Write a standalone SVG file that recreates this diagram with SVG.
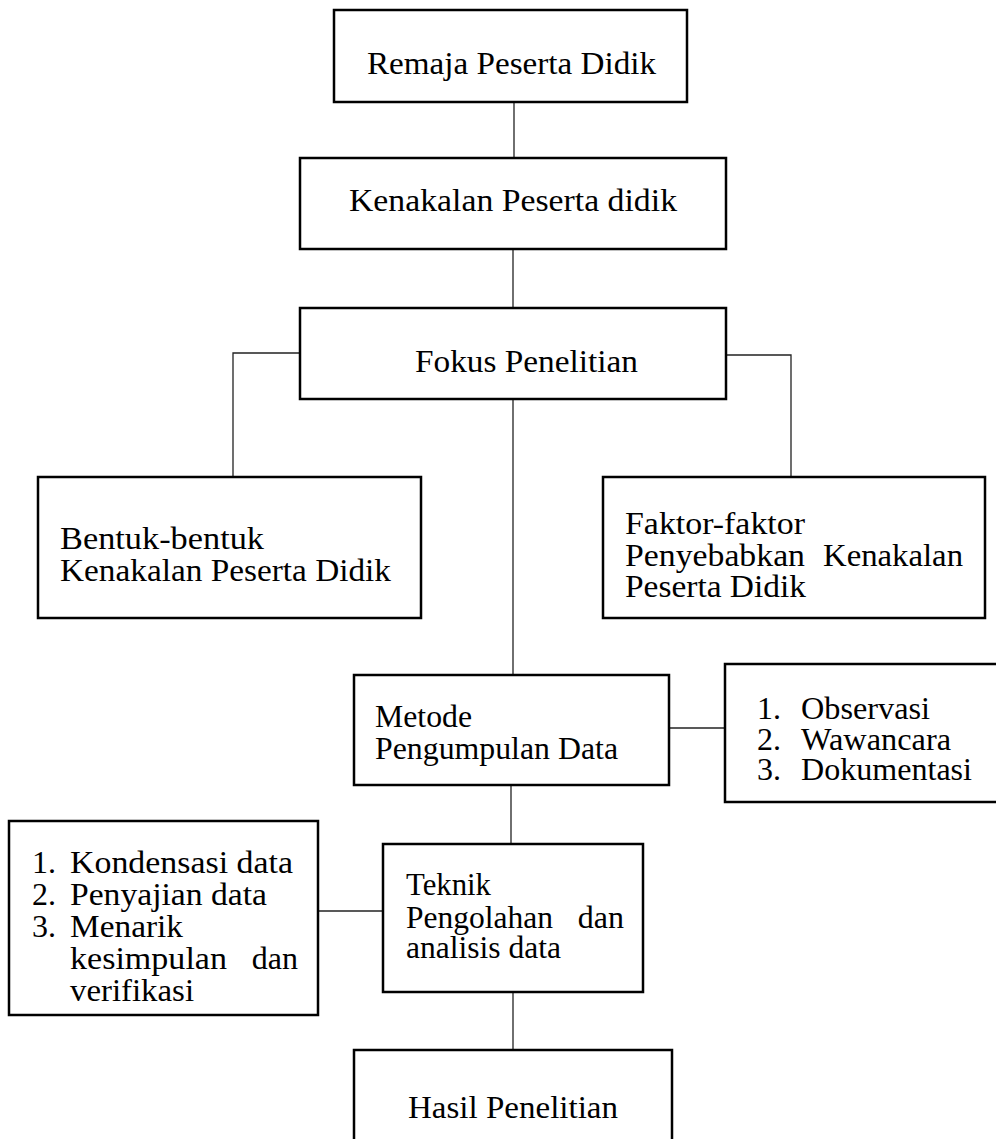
<svg xmlns="http://www.w3.org/2000/svg" width="996" height="1139" viewBox="0 0 996 1139">
<style>
.box{fill:#fff;stroke:#000;stroke-width:2.5}
.con{fill:none;stroke:#222;stroke-width:1.3}
text{font-family:"Liberation Serif","Times New Roman",serif;font-size:32px;fill:#000}
.end{text-anchor:end}
</style>
<rect width="996" height="1139" fill="#fff"/>
<g id="connectors">
<line class="con" x1="514" y1="102" x2="514" y2="158"/>
<line class="con" x1="513" y1="249" x2="513" y2="308"/>
<line class="con" x1="513" y1="399" x2="513" y2="676"/>
<polyline class="con" points="300,353 233,353 233,477"/>
<polyline class="con" points="726,355 791,355 791,477"/>
<line class="con" x1="669" y1="728" x2="725" y2="728"/>
<line class="con" x1="511" y1="785" x2="511" y2="844"/>
<line class="con" x1="318" y1="911" x2="383" y2="911"/>
<line class="con" x1="513" y1="992" x2="513" y2="1050"/>
</g>
<g id="remaja">
<rect class="box" x="334" y="10" width="353" height="92"/>
<text x="367" y="74" textLength="289" lengthAdjust="spacingAndGlyphs">Remaja Peserta Didik</text>
</g>
<g id="kenakalan">
<rect class="box" x="300" y="158" width="426" height="91"/>
<text x="349" y="211" textLength="328" lengthAdjust="spacingAndGlyphs">Kenakalan Peserta didik</text>
</g>
<g id="fokus">
<rect class="box" x="300" y="308" width="426" height="91"/>
<text x="415" y="372" textLength="223" lengthAdjust="spacingAndGlyphs">Fokus Penelitian</text>
</g>
<g id="bentuk">
<rect class="box" x="38" y="477" width="383" height="141"/>
<text x="60" y="549" textLength="204" lengthAdjust="spacingAndGlyphs">Bentuk-bentuk</text>
<text x="60" y="581" textLength="331" lengthAdjust="spacingAndGlyphs">Kenakalan Peserta Didik</text>
</g>
<g id="faktor">
<rect class="box" x="603" y="477" width="382" height="141"/>
<text x="625" y="534" textLength="180" lengthAdjust="spacingAndGlyphs">Faktor-faktor</text>
<text x="625" y="566" textLength="180" lengthAdjust="spacingAndGlyphs">Penyebabkan</text>
<text x="823" y="566" textLength="140" lengthAdjust="spacingAndGlyphs">Kenakalan</text>
<text x="625" y="597" textLength="181" lengthAdjust="spacingAndGlyphs">Peserta Didik</text>
</g>
<g id="metode">
<rect class="box" x="354" y="675" width="315" height="110"/>
<text x="375" y="727" textLength="97" lengthAdjust="spacingAndGlyphs">Metode</text>
<text x="375" y="759" textLength="243" lengthAdjust="spacingAndGlyphs">Pengumpulan Data</text>
</g>
<g id="metode-list">
<rect class="box" x="725" y="664" width="300" height="138"/>
<text x="757" y="719">1.</text>
<text x="801" y="719" textLength="129" lengthAdjust="spacingAndGlyphs">Observasi</text>
<text x="757" y="750">2.</text>
<text x="801" y="750" textLength="150" lengthAdjust="spacingAndGlyphs">Wawancara</text>
<text x="757" y="780">3.</text>
<text x="801" y="780" textLength="171" lengthAdjust="spacingAndGlyphs">Dokumentasi</text>
</g>
<g id="teknik">
<rect class="box" x="383" y="844" width="260" height="148"/>
<text x="406" y="895" textLength="85" lengthAdjust="spacingAndGlyphs">Teknik</text>
<text x="406" y="928" textLength="147" lengthAdjust="spacingAndGlyphs">Pengolahan</text>
<text class="end" x="624" y="928">dan</text>
<text x="406" y="958" textLength="155" lengthAdjust="spacingAndGlyphs">analisis data</text>
</g>
<g id="analisis-list">
<rect class="box" x="9" y="821" width="309" height="194"/>
<text x="32" y="873">1.</text>
<text x="70" y="873" textLength="223" lengthAdjust="spacingAndGlyphs">Kondensasi data</text>
<text x="32" y="905">2.</text>
<text x="70" y="905" textLength="197" lengthAdjust="spacingAndGlyphs">Penyajian data</text>
<text x="32" y="937">3.</text>
<text x="70" y="937" textLength="113" lengthAdjust="spacingAndGlyphs">Menarik</text>
<text x="70" y="969" textLength="157" lengthAdjust="spacingAndGlyphs">kesimpulan</text>
<text class="end" x="298" y="969">dan</text>
<text x="70" y="1001" textLength="124" lengthAdjust="spacingAndGlyphs">verifikasi</text>
</g>
<g id="hasil">
<rect class="box" x="354" y="1050" width="318" height="120"/>
<text x="408" y="1118" textLength="210" lengthAdjust="spacingAndGlyphs">Hasil Penelitian</text>
</g>
</svg>
